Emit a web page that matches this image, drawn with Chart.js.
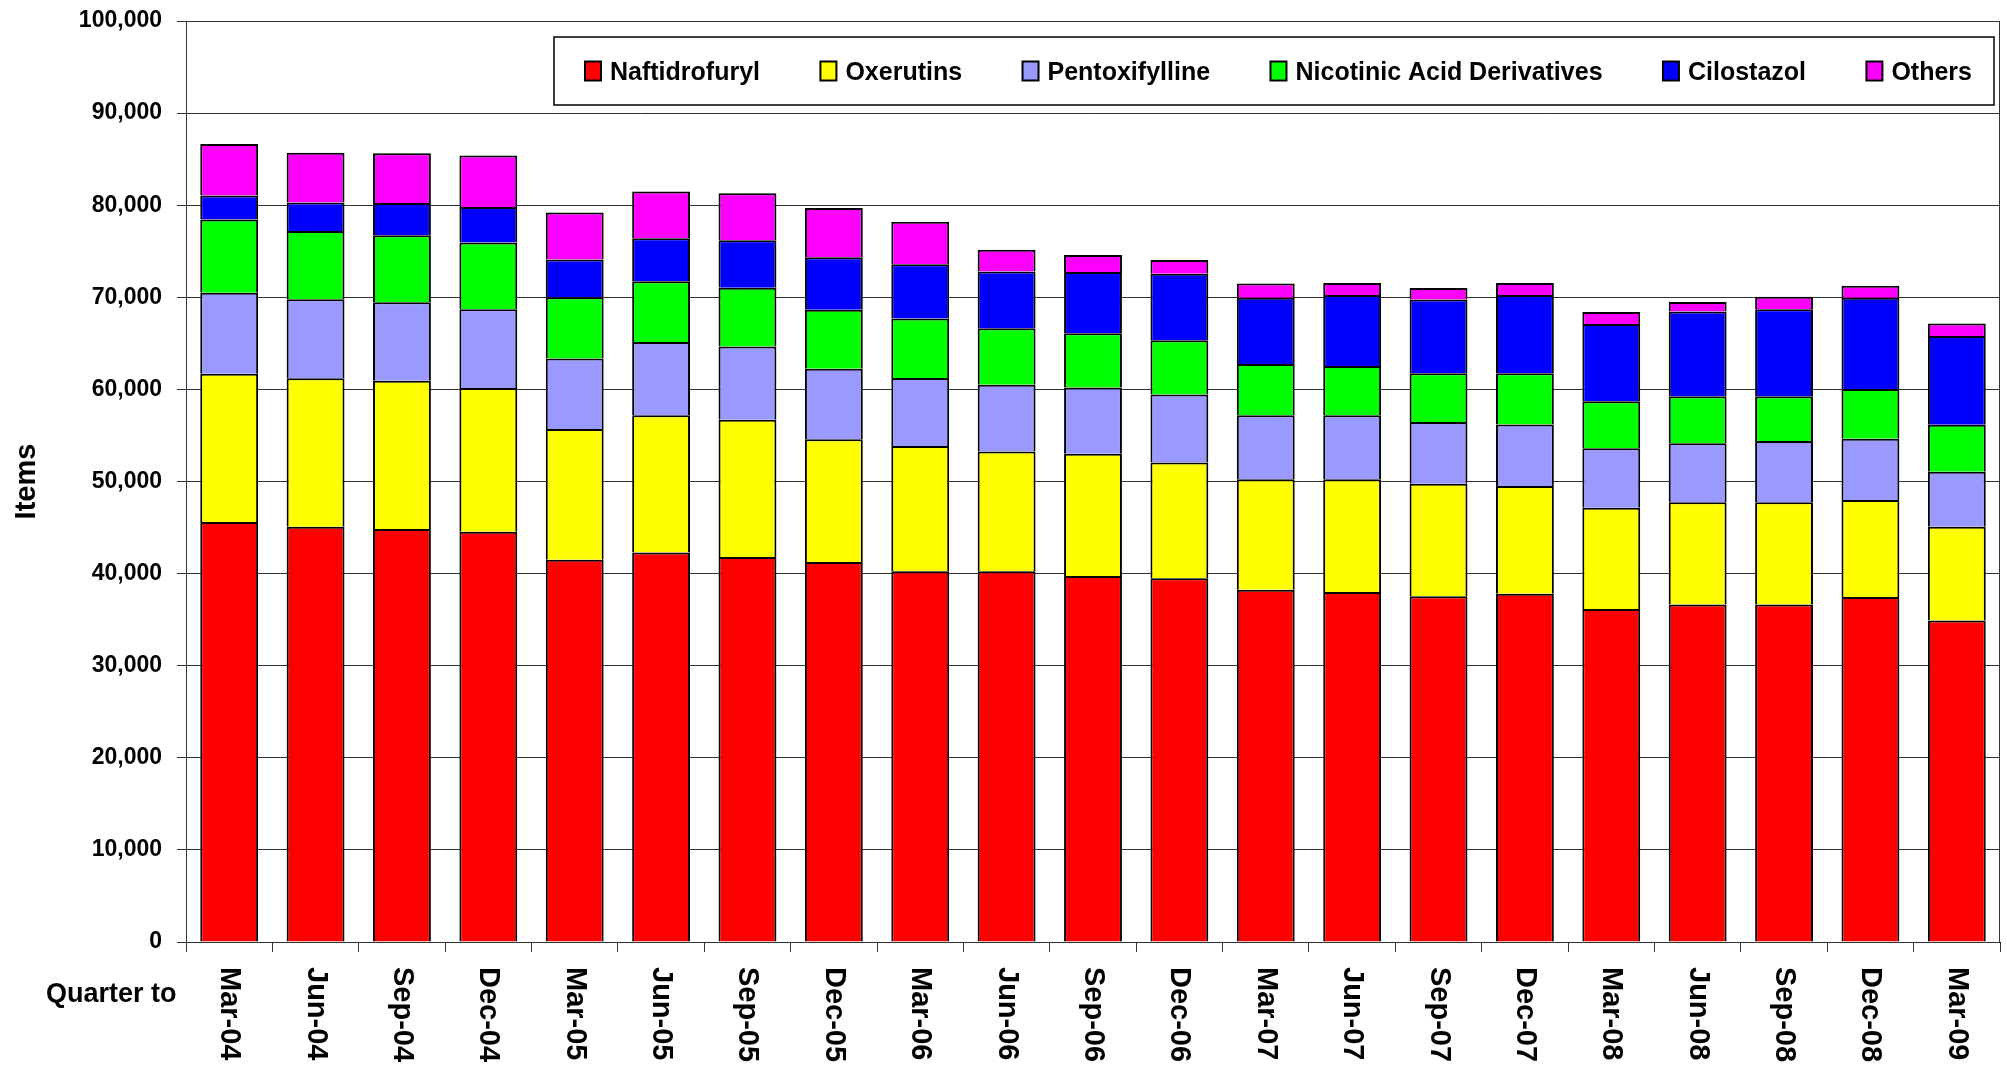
<!DOCTYPE html>
<html>
<head>
<meta charset="utf-8">
<script src="https://cdn.jsdelivr.net/npm/chart.js@4.4.1/dist/chart.umd.min.js"></script>
<style>
  html, body { margin: 0; padding: 0; background: #fff; overflow: hidden; }
  #wrap { width: 2007px; height: 1067px; position: relative; }
</style>
</head>
<body>
<div id="wrap"><canvas id="chart1"></canvas></div>
<script>
const quarters = ['Mar-04', 'Jun-04', 'Sep-04', 'Dec-04', 'Mar-05', 'Jun-05', 'Sep-05', 'Dec-05',
  'Mar-06', 'Jun-06', 'Sep-06', 'Dec-06', 'Mar-07', 'Jun-07', 'Sep-07', 'Dec-07',
  'Mar-08', 'Jun-08', 'Sep-08', 'Dec-08', 'Mar-09'];

const naftidrofuryl = [45600, 45100, 44850, 44550, 41500, 42300, 41800, 41250, 40250, 40250, 39750,
  39500, 38250, 38000, 37550, 37800, 36150, 36650, 36650, 37450, 34900];
const oxerutins = [16100, 16100, 16100, 15600, 14200, 14900, 14900, 13350, 13600, 13000, 13250,
  12550, 12000, 12250, 12200, 11700, 11000, 11100, 11100, 10550, 10200];
const pentoxifylline = [8800, 8600, 8500, 8550, 7650, 7950, 7950, 7650, 7400, 7250, 7200,
  7400, 6950, 6950, 6700, 6700, 6450, 6400, 6650, 6650, 5950];
const nicotinic = [7950, 7400, 7300, 7250, 6650, 6600, 6400, 6400, 6450, 6150, 5900,
  5900, 5550, 5350, 5300, 5550, 5100, 5100, 4850, 5400, 5100];
const cilostazol = [2600, 3100, 3500, 3850, 4100, 4650, 5150, 5700, 5900, 6150, 6650,
  7200, 7200, 7700, 8000, 8500, 8400, 9200, 9450, 9900, 9650];
const others = [5600, 5400, 5400, 5600, 5100, 5100, 5100, 5350, 4600, 2350, 1850,
  1500, 1550, 1300, 1250, 1300, 1300, 1050, 1350, 1300, 1350];

const yTicks = [0, 10000, 20000, 30000, 40000, 50000, 60000, 70000, 80000, 90000, 100000];

const fontFam = '"Liberation Sans", Arial, Helvetica, sans-serif';
Chart.defaults.font.family = fontFam;
Chart.defaults.color = '#000';

function series(label, data, color) {
  return {
    label: label,
    data: data,
    backgroundColor: color,
    borderColor: '#000',
    borderWidth: 2,
    categoryPercentage: 1.0,
    barPercentage: 0.67
  };
}

// frame round the plot area (right edge is not drawn by the axes)
const plotFrame = {
  id: 'plotFrame',
  afterDraw(chart) {
    const a = chart.chartArea, c = chart.ctx;
    c.save();
    c.strokeStyle = '#333';
    c.lineWidth = 1;
    c.strokeRect(Math.round(a.left) + 0.5, Math.round(a.top) + 0.5,
      Math.round(a.right - a.left) - 1, Math.round(a.bottom - a.top));
    c.restore();
  }
};

// quarter labels, rotated to read downwards like the original
const quarterLabels = {
  id: 'quarterLabels',
  afterDraw(chart) {
    const xs = chart.scales.x, c = chart.ctx;
    c.save();
    c.fillStyle = '#000';
    c.font = 'bold 29px ' + fontFam;
    c.textAlign = 'left';
    c.textBaseline = 'middle';
    quarters.forEach((q, i) => {
      c.save();
      c.translate(xs.getPixelForValue(i), chart.chartArea.bottom + 25);
      c.rotate(Math.PI / 2);
      c.fillText(q, 0, 0);
      c.restore();
    });
    c.font = 'bold 27px ' + fontFam;
    c.textBaseline = 'alphabetic';
    c.fillText('Quarter to', 46, 1002);
    c.restore();
  }
};

// boxed legend sitting inside the plot, top right
const boxLegend = {
  id: 'boxLegend',
  afterDraw(chart) {
    const c = chart.ctx, a = chart.chartArea;
    const left = a.left + 368, right = a.right - 6;
    const top = a.top + 16, bottom = a.top + 84;
    const mid = (top + bottom) / 2;
    c.save();
    c.fillStyle = '#fff';
    c.fillRect(left, top, right - left, bottom - top);
    c.strokeStyle = '#000';
    c.lineWidth = 1.5;
    c.strokeRect(left, top, right - left, bottom - top);

    c.font = 'bold 25px ' + fontFam;
    const items = chart.data.datasets;
    const widths = items.map(d => 16 + 9 + c.measureText(d.label).width);
    const total = widths.reduce((s, w) => s + w, 0);
    const gap = (right - left - 31 - 22 - total) / (items.length - 1);
    let x = left + 31;
    items.forEach((d, i) => {
      c.fillStyle = d.backgroundColor;
      c.fillRect(x, mid - 9.5, 16, 19);
      c.strokeStyle = '#000';
      c.lineWidth = 2;
      c.strokeRect(x, mid - 9.5, 16, 19);
      c.fillStyle = '#000';
      c.textAlign = 'left';
      c.textBaseline = 'alphabetic';
      c.fillText(d.label, x + 25, mid + 9);
      x += widths[i] + gap;
    });
    c.restore();
  }
};

const ctx = document.getElementById('chart1');
new Chart(ctx, {
  type: 'bar',
  data: {
    labels: quarters,
    datasets: [
      series('Naftidrofuryl', naftidrofuryl, '#FF0000'),
      series('Oxerutins', oxerutins, '#FFFF00'),
      series('Pentoxifylline', pentoxifylline, '#9999FF'),
      series('Nicotinic Acid Derivatives', nicotinic, '#00FF00'),
      series('Cilostazol', cilostazol, '#0000FF'),
      series('Others', others, '#FF00FF')
    ]
  },
  options: {
    responsive: true,
    maintainAspectRatio: false,
    animation: false,
    layout: {
      padding: { left: 0, right: 7, top: 21, bottom: 0 }
    },
    scales: {
      x: {
        stacked: true,
        grid: {
          display: true,
          offset: true,
          drawOnChartArea: false,
          drawTicks: true,
          tickLength: 10,
          color: '#333'
        },
        border: { color: '#000', width: 1 },
        ticks: { display: false },
        afterFit(scale) { scale.height = 125; }
      },
      y: {
        stacked: true,
        min: 0,
        max: 100000,
        afterBuildTicks(scale) {
          scale.ticks = yTicks.map(v => ({ value: v }));
        },
        ticks: {
          padding: 15,
          font: { size: 23, weight: 'bold' },
          color: '#000',
          callback: v => v.toLocaleString('en-US')
        },
        grid: {
          color: '#333',
          lineWidth: 1,
          tickLength: 9
        },
        border: { color: '#000', width: 1 },
        title: {
          display: true,
          text: 'Items',
          font: { size: 29, weight: 'bold' },
          color: '#000',
          padding: { top: 10, bottom: 0 }
        },
        afterFit(scale) {
          scale.width = 186;
          // label padding would otherwise push the plot top down
          scale.paddingTop = 12;
          scale.paddingBottom = 12;
        }
      }
    },
    plugins: {
      legend: { display: false },
      tooltip: { enabled: false }
    }
  },
  plugins: [plotFrame, quarterLabels, boxLegend]
});
</script>
</body>
</html>
